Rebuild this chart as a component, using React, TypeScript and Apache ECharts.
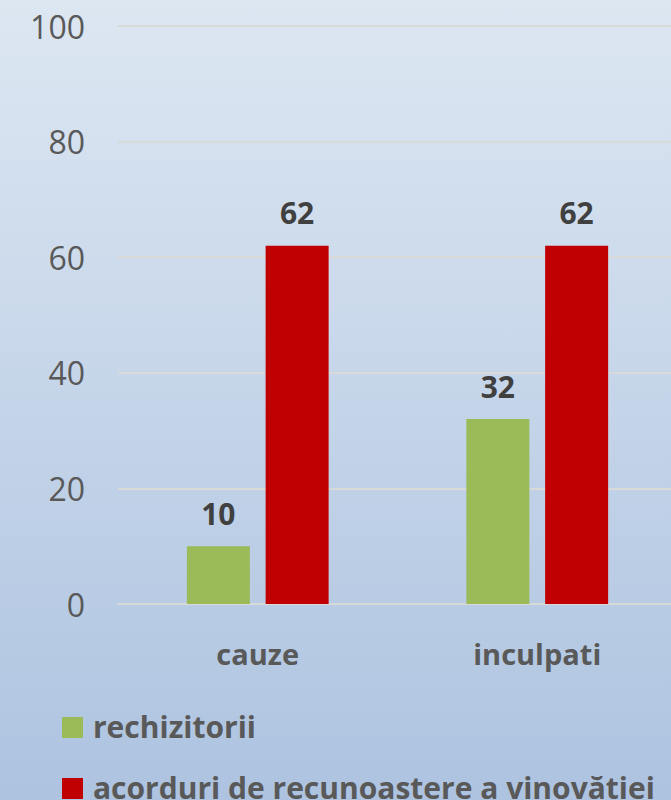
import React, { useEffect, useRef } from "react";
import * as echarts from "echarts";

const categories = ["cauze", "inculpati"];
const seriesNames = ["rechizitorii", "acorduri de recunoaștere a vinovăției"];
const seriesColors = ["#9bbb59", "#c00000"];
const rechizitorii = [10, 32];
const acorduri = [62, 62];
const yTicks = { min: 0, max: 100, interval: 20 };

const FONT = "'Open Sans', sans-serif";

export default function App() {
  const ref = useRef<HTMLDivElement>(null);
  useEffect(() => {
    if (!ref.current) return;
    const chart = echarts.init(ref.current, null, { renderer: "svg" });
    const labelStyle = {
      show: true,
      position: "top" as const,
      distance: 18,
      fontFamily: FONT,
      fontWeight: "bold" as const,
      fontSize: 30,
      color: "#404040",
    };
    const legendItems = seriesNames.map((name, i) => ({
      type: "group",
      left: 62,
      top: 711 + i * 61,
      children: [
        {
          type: "rect",
          shape: { x: 0, y: 0, width: 21, height: 21 },
          style: { fill: seriesColors[i] },
        },
        {
          type: "text",
          x: 31,
          y: 9,
          style: {
            text: name,
            fontFamily: FONT,
            fontWeight: "bold",
            fontSize: 30,
            fill: "#595959",
            textVerticalAlign: "middle",
            verticalAlign: "middle",
          },
        },
      ],
    }));
    chart.setOption({
      animation: false,
      backgroundColor: {
        type: "linear",
        x: 0,
        y: 0,
        x2: 0,
        y2: 1,
        colorStops: [
          { offset: 0, color: "#dde7f2" },
          { offset: 1, color: "#adc3e0" },
        ],
      },
      grid: { left: 118, right: 0, top: 26, bottom: 196, containLabel: false },
      graphic: legendItems,
      xAxis: {
        type: "category",
        data: categories,
        axisLine: { lineStyle: { color: "#d9d9d9", width: 2 } },
        axisTick: { show: false },
        axisLabel: {
          fontFamily: FONT,
          fontWeight: "bold",
          fontSize: 29,
          color: "#595959",
          margin: 35,
        },
      },
      yAxis: {
        type: "value",
        min: yTicks.min,
        max: yTicks.max,
        interval: yTicks.interval,
        axisLine: { show: false },
        axisTick: { show: false },
        splitLine: { lineStyle: { color: "#d9d9d9", width: 2 } },
        axisLabel: {
          fontFamily: FONT,
          fontSize: 32,
          color: "#595959",
          margin: 33,
        },
      },
      series: [
        {
          name: seriesNames[0],
          type: "bar",
          data: rechizitorii,
          barWidth: 63,
          barGap: "25%",
          itemStyle: { color: seriesColors[0] },
          label: labelStyle,
        },
        {
          name: seriesNames[1],
          type: "bar",
          data: acorduri,
          barWidth: 63,
          barGap: "25%",
          itemStyle: { color: seriesColors[1] },
          label: labelStyle,
        },
      ],
    });
    return () => chart.dispose();
  }, []);
  return (
    <div
      ref={ref}
      style={{ position: "fixed", left: 0, top: 0, width: 677, height: 800 }}
    />
  );
}
